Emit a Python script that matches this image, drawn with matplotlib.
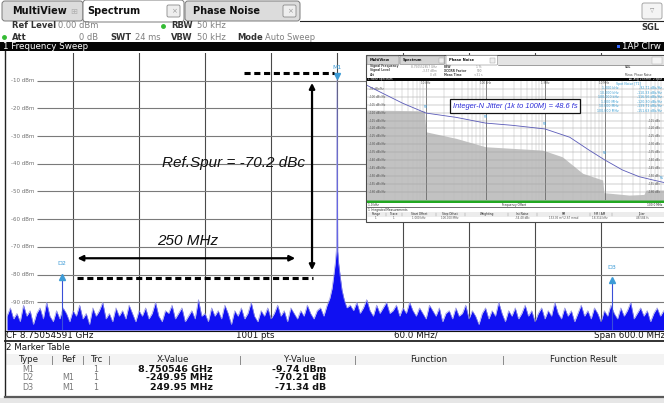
import numpy as np
import matplotlib.pyplot as plt
from matplotlib.patches import Rectangle, FancyBboxPatch
from matplotlib.transforms import offset_copy

plt.rcParams['font.family'] = ['DejaVu Sans']

# ---------------- spectrum trace (dBm) ----------------
# noise floor, 3 MHz steps, offsets -300 .. -12 MHz
noise_left_dbm = [
    -95, -92, -96, -94, -97, -91, -95, -93, -98, -94,
    -92, -96, -90, -95, -97, -93, -96, -92, -94, -97,
    -93, -95, -91, -96, -94, -98, -92, -95, -93, -90,
    -96, -94, -97, -92, -95, -93, -96, -91, -94, -97,
    -93, -95, -92, -96, -94, -90, -95, -97, -93, -94,
    -91, -96, -94, -92, -97, -95, -93, -96, -89, -95,
    -94, -97, -92, -95, -93, -96, -91, -94, -98, -93,
    -95, -92, -96, -94, -90, -95, -97, -93, -95, -92,
    -96, -94, -91, -95, -93, -97, -92, -94, -96, -93,
    -95, -91, -94, -96, -93, -92, -95]
# noise floor, 3 MHz steps, offsets +12 .. +300 MHz
noise_right_dbm = [
    -91, -93, -90, -94, -92, -89, -93, -95, -91, -94,
    -92, -90, -94, -93, -91, -95, -92, -94, -90, -93,
    -95, -92, -94, -96, -91, -93, -95, -92, -97, -94,
    -93, -96, -92, -95, -94, -91, -96, -93, -95, -98,
    -94, -92, -96, -93, -95, -90, -94, -97, -93, -95,
    -92, -96, -94, -91, -95, -93, -97, -94, -92, -96,
    -93, -95, -90, -94, -96, -92, -95, -93, -97, -94,
    -91, -95, -93, -96, -92, -94, -97, -93, -95, -91,
    -94, -96, -92, -95, -93, -90, -96, -94, -92, -95,
    -93, -97, -94, -92, -95, -93, -94]
carrier_offset_mhz = [-9.0, -6.5, -4.5, -3.0, -1.5, -0.6, 0.0, 0.6, 1.5, 3.0, 4.5, 6.5, 9.0]
carrier_dbm = [-91.0, -88.5, -85.0, -80.5, -75.5, -71.0, -9.74, -71.5, -76.0, -81.0, -85.5, -89.0, -92.0]
spur_offset_mhz = [-249.95, 249.95]
spur_dbm = [-79.95, -81.08]

marker_names = ['M1', 'D2', 'D3']
marker_offset_mhz = [0.0, -249.95, 249.95]
marker_dbm = [-9.74, -79.95, -81.08]
level_ticks = [-10, -20, -30, -40, -50, -60, -70, -80, -90]

table_type = ['M1', 'D2', 'D3']
table_ref = ['', 'M1', 'M1']
table_trc = ['1', '1', '1']
table_x = ['8.750546 GHz', '-249.95 MHz', '249.95 MHz']
table_y = ['-9.74 dBm', '-70.21 dB', '-71.34 dB']

# ---------------- phase noise screenshot (inset) ----------------
pn_freq_hz = [1e3, 1.9e3, 4.1e3, 1e4, 3.2e4, 1e5, 2.8e5, 1e6, 2.6e6, 5.5e6, 1e7, 2e7, 3.8e7, 6.5e7, 1e8]
pn_dbc = [-92.7, -98.0, -104.2, -110.3, -113.0, -116.6, -118.0, -120.3, -125.5, -133.6,
          -139.7, -146.1, -150.3, -152.4, -154.0]
pn_floor_hz = [1e3, 9.4e3, 1.0e4, 3.2e4, 1.0e5, 2.8e5, 9.1e5, 1.95e6, 4.3e6, 9.3e6,
               9.8e6, 2.6e7, 4.6e7, 5.0e7, 1e8]
pn_floor_dbc = [-108.4, -108.9, -122.1, -126.2, -131.5, -132.5, -133.6, -137.8, -148.2, -152.4,
                -160.4, -161.9, -161.5, -158.7, -158.7]
pn_marker_hz = [1e4, 1e5, 1e6, 1e7, 1e8]
pn_marker_dbc = [-109.0, -115.2, -119.6, -138.2, -153.4]
pn_marker_names = ['M1', 'M2', 'M3', 'M4', 'M5']
spot_freq = ['1.000 kHz', '10.000 kHz', '100.000 kHz', '1.000 MHz', '10.000 MHz', '100.000 MHz']
spot_val = ['-92.71 dBc/Hz', '-110.33 dBc/Hz', '-116.56 dBc/Hz', '-120.30 dBc/Hz',
            '-139.71 dBc/Hz', '-151.63 dBc/Hz']
int_head = ['Range', 'Trace', 'Start Offset', 'Stop Offset', 'Weighting', 'Int Noise', 'PM', 'FM / AM', 'Jitter']
int_vals = ['1', '1', '1.000 kHz', '100.000 MHz', '', '-54.48 dBc', '153.05 m\u00b0/2.67 mrad',
            '18.314 kHz', '48.584 fs']

W, H = 664, 403
fig = plt.figure(figsize=(W / 100, H / 100), dpi=100)


def pix_axes(left, top, width, height, z):
    a = fig.add_axes([left / W, 1 - (top + height) / H, width / W, height / H], zorder=z)
    return a


def overlay(z):
    a = fig.add_axes([0, 0, 1, 1], zorder=z)
    a.set_xlim(0, W)
    a.set_ylim(H, 0)
    a.axis('off')
    a.patch.set_alpha(0)
    return a


def box(a, x0, y0, x1, y1, fc, ec='none', lw=0.6, z=1, rounded=0):
    if rounded:
        p = FancyBboxPatch((x0, y0), x1 - x0, y1 - y0, boxstyle='round,pad=0,rounding_size=%g' % rounded,
                           facecolor=fc, edgecolor=ec, linewidth=lw, zorder=z)
    else:
        p = Rectangle((x0, y0), x1 - x0, y1 - y0, facecolor=fc, edgecolor=ec, linewidth=lw, zorder=z)
    a.add_patch(p)


def txt(a, x, y, s, size=6.0, color='#222222', weight='normal', ha='left', z=3, **kw):
    a.text(x, y, s, fontsize=size, color=color, fontweight=weight, ha=ha, va='center', zorder=z, **kw)


# ================= main window chrome =================
ui = overlay(0)
box(ui, 0, 0, W, H, 'white', z=0)
# tabs
box(ui, 2, 1, 83, 21, '#dcdcdc', '#7a7a7a', 0.7, rounded=3)
box(ui, 185, 1, 300, 21, '#dcdcdc', '#7a7a7a', 0.7, rounded=3)
box(ui, 83, 0, 184, 22, 'white', '#7a7a7a', 0.7, z=2, rounded=3)
ui.plot([300, W], [20.5, 20.5], color='#222222', lw=0.8, zorder=2)
txt(ui, 12, 11, 'MultiView', 7, '#111111', 'bold')
txt(ui, 74, 11, '\u229e', 6, '#b0b0b0', ha='center')
txt(ui, 87, 11, 'Spectrum', 7, '#111111', 'bold')
box(ui, 167, 5, 180, 17, '#eeeeee', '#8a8a8a', 0.6, z=3, rounded=1.5)
txt(ui, 173.5, 11, '\u00d7', 5, '#999999', ha='center', z=4)
txt(ui, 193, 11, 'Phase Noise', 7, '#111111', 'bold')
box(ui, 283, 5, 296, 17, '#eeeeee', '#8a8a8a', 0.6, z=3, rounded=1.5)
txt(ui, 289.5, 11, '\u00d7', 5, '#999999', ha='center', z=4)
box(ui, 642, 3, 662, 19, '#f4f4f4', '#9a9a9a', 0.6, z=3, rounded=2)
txt(ui, 652, 11, '\u25bd', 4, '#888888', ha='center', z=4)

# setting rows
txt(ui, 12, 26, 'Ref Level', 6, '#333333', 'bold')
txt(ui, 58, 26, '0.00 dBm', 6, '#808080')
ui.plot([163], [26], 'o', ms=2.5, color='#33bb33', zorder=3)
txt(ui, 193, 26, 'RBW', 6, '#333333', 'bold', ha='right')
txt(ui, 197, 26, '50 kHz', 6, '#808080')
ui.plot([4], [37], 'o', ms=2.5, color='#33bb33', zorder=3)
txt(ui, 12, 37, 'Att', 6, '#333333', 'bold')
txt(ui, 98, 37, '0 dB', 6, '#808080', ha='right')
txt(ui, 110, 37, 'SWT', 6, '#333333', 'bold')
txt(ui, 135, 37, '24 ms', 6, '#808080')
txt(ui, 193, 37, 'VBW', 6, '#333333', 'bold', ha='right')
txt(ui, 197, 37, '50 kHz', 6, '#808080')
txt(ui, 237, 37, 'Mode', 6, '#333333', 'bold')
txt(ui, 265, 37, 'Auto Sweep', 6, '#808080')
txt(ui, 660, 28, 'SGL', 6, '#333333', 'bold', ha='right')

# black title bar
box(ui, 0, 41.5, W, 51, '#050505', z=1)
txt(ui, 3, 46.5, '1 Frequency Sweep', 6.3, 'white')
box(ui, 616.5, 45, 619.5, 48, '#3366ff', z=3)
txt(ui, 622, 46.5, '1AP Clrw', 6.3, 'white')

# frame, CF row, marker table
ui.plot([4.5, 4.5], [51, 396], color='#222222', lw=1.0, zorder=4)
ui.plot([4.5, W], [330.5, 330.5], color='#111111', lw=0.8, zorder=4)
ui.plot([4.5, W], [341, 341], color='#222222', lw=1.3, zorder=4)
txt(ui, 6, 335.5, 'CF 8.75054591 GHz', 6.3, '#111111')
txt(ui, 236, 335.5, '1001 pts', 6.3, '#111111')
txt(ui, 394, 335.5, '60.0 MHz/', 6.3, '#111111')
txt(ui, 665, 335.5, 'Span 600.0 MHz', 6.3, '#111111', ha='right')

txt(ui, 6, 348, '2 Marker Table', 6.3, '#111111')
box(ui, 5, 354, W, 364.5, '#f3f3f3', z=1)
for xs in [52, 83, 109, 240, 355, 503]:
    ui.plot([xs, xs], [355.5, 363.5], color='#8a8a8a', lw=0.7, zorder=3)
for xc, lab in zip([28, 68, 96, 173, 300, 429, 584],
                   ['Type', 'Ref', 'Trc', 'X-Value', 'Y-Value', 'Function', 'Function Result']):
    txt(ui, xc, 359.5, lab, 6.3, '#222222', ha='center')
for i in range(len(table_type)):
    yy = 369 + 9 * i
    txt(ui, 28, yy, table_type[i], 5.8, '#777777', ha='center')
    txt(ui, 68, yy, table_ref[i], 5.8, '#777777', ha='center')
    txt(ui, 96, yy, table_trc[i], 5.8, '#777777', ha='center')
    txt(ui, 213, yy, table_x[i], 6.8, '#111111', 'bold', ha='right')
    txt(ui, 326, yy, table_y[i], 6.8, '#111111', 'bold', ha='right')
ui.plot([4.5, W], [396.5, 396.5], color='#5a5a5a', lw=1.6, zorder=4)
box(ui, 0, 397.5, W, H, '#e6e6e6', z=1)

# ================= spectrum plot =================
ax = pix_axes(7, 53, 660, 277, 1)
ax.set_xlim(-300, 300)
ax.set_ylim(-100, 0)
ax.axis('off')

for xv in np.arange(-240, 241, 60):
    ax.axvline(xv, color='#4a4a4a', lw=0.8, zorder=1)
for lv in level_ticks:
    ax.hlines(lv, -273, 300, color='#7a7a7a', lw=0.8, zorder=1)
    ax.text(-296, lv, '%d dBm' % lv, fontsize=4.0, color='#707070', ha='left', va='center', zorder=2)

freq = np.concatenate([np.arange(-300, -11, 3), carrier_offset_mhz, np.arange(12, 301, 3)])
level = np.concatenate([noise_left_dbm, carrier_dbm, noise_right_dbm])
ax.fill_between(freq, level, -100, color='#1010f2', lw=0, zorder=3)
ax.plot(freq, level, color='#9a9ae0', lw=0.45, zorder=4)
ax.vlines(spur_offset_mhz, -100, spur_dbm, color='#3a4fd8', lw=0.8, zorder=4)

mk_color = '#3d9bd6'
up = offset_copy(ax.transData, fig=fig, y=3.5, units='dots')
dn = offset_copy(ax.transData, fig=fig, y=-2.5, units='dots')
for name, mx, my in zip(marker_names, marker_offset_mhz, marker_dbm):
    if name == 'M1':
        ax.plot([mx], [my], marker='v', ms=4.5, color=mk_color, transform=up, zorder=6, clip_on=False)
        ax.text(mx, my + 4.4, name, fontsize=4.5, color=mk_color, ha='center', va='center', zorder=6)
    else:
        ax.plot([mx], [my], marker='^', ms=4.5, color=mk_color, transform=dn, zorder=6)
        ax.text(mx, my + 3.8, name, fontsize=4.5, color=mk_color, ha='center', va='center', zorder=6)

# drawn annotations
ax.plot([-85, -3], [-7.2, -7.2], color='black', lw=2.2, dashes=(2.0, 1.2), zorder=7)
ax.plot([-236, -22], [-81.2, -81.2], color='black', lw=2.2, dashes=(2.0, 1.2), zorder=7)
ax.annotate('', xy=(-22.7, -10.8), xytext=(-22.7, -78.4),
            arrowprops=dict(arrowstyle='<|-|>', color='black', lw=1.6, mutation_scale=8, shrinkA=0, shrinkB=0),
            zorder=7)
ax.annotate('', xy=(-236, -74.1), xytext=(-38, -74.1),
            arrowprops=dict(arrowstyle='<|-|>', color='black', lw=1.6, mutation_scale=8, shrinkA=0, shrinkB=0),
            zorder=7)
ax.text(-163.5, -68.0, '250 MHz', fontsize=11, style='italic', family='Liberation Sans',
        color='#111111', ha='left', va='center', zorder=7)
ax.text(-159, -39.8, 'Ref.Spur = -70.2 dBc', fontsize=11, style='italic', family='Liberation Sans',
        color='#111111', ha='left', va='center', zorder=7)

# ================= inset: phase noise screenshot =================
ui2 = overlay(2)
box(ui2, 366, 55, 666, 222, 'white', '#4a4a4a', 0.8, z=1)
box(ui2, 366.5, 55.5, 666, 64.5, '#e4e4e4', z=1)
box(ui2, 367, 56, 399, 64.5, '#d4d4d4', '#888888', 0.4, z=2, rounded=1)
box(ui2, 400, 56, 444.5, 64.5, '#d4d4d4', '#888888', 0.4, z=2, rounded=1)
box(ui2, 446, 55.5, 497.5, 65, 'white', '#888888', 0.4, z=2, rounded=1)
box(ui2, 439, 57.5, 443.5, 62.5, '#eeeeee', '#999999', 0.3, z=3)
box(ui2, 490, 57.5, 495, 62.5, '#eeeeee', '#999999', 0.3, z=3)
box(ui2, 652, 56.5, 662, 64, '#f4f4f4', '#aaaaaa', 0.3, z=3)
ui2.plot([497.5, 666], [64.5, 64.5], color='#555555', lw=0.4, zorder=3)
txt(ui2, 370, 60.3, 'MultiView', 2.6, '#111111', 'bold')
txt(ui2, 403, 60.3, 'Spectrum', 2.6, '#111111', 'bold')
txt(ui2, 449, 60.3, 'Phase Noise', 2.6, '#111111', 'bold')
for i, (k, v) in enumerate([('Signal Frequency', '8.750552857 GHz'), ('Signal Level', '-3.57 dBm'), ('Att', '0 dB')]):
    txt(ui2, 370, 66.5 + 4 * i, k, 2.1, '#444444', 'bold')
    txt(ui2, 437, 66.5 + 4 * i, v, 2.1, '#888888', ha='right')
for i, (k, v) in enumerate([('RBW', '1 %'), ('XCORR Factor', '500'), ('Meas Time', '<31 s')]):
    txt(ui2, 444, 66.5 + 4 * i, k, 2.1, '#444444', 'bold')
    txt(ui2, 482, 66.5 + 4 * i, v, 2.1, '#888888', ha='right')
txt(ui2, 625, 66.5, 'SGL', 2.1, '#444444', 'bold')
txt(ui2, 625, 74.5, 'Meas: Phase Noise', 2.1, '#444444')
box(ui2, 366.5, 77.5, 666, 80.8, '#050505', z=2)
txt(ui2, 368, 79.1, '1 Noise Spectrum', 2.0, 'white', z=4)
txt(ui2, 662, 79.1, '\u25aa1 Avg 1%Smth  2 Spur', 2.0, 'white', ha='right', z=4)
box(ui2, 366.5, 200, 666, 203.4, '#22a822', z=2)
txt(ui2, 368, 205.2, '1.0 kHz', 2.1, '#222222')
txt(ui2, 514, 205.2, 'Frequency Offset', 2.1, '#222222', ha='center')
txt(ui2, 662, 205.2, '100.0 MHz', 2.1, '#222222', ha='right')
ui2.plot([366.5, 666], [207.2, 207.2], color='#333333', lw=0.5, zorder=3)
txt(ui2, 368, 210.3, '1 Integrated Measurements', 2.1, '#222222')
box(ui2, 367, 212.2, 666, 216.6, '#ececec', z=2)
int_x = [376, 394, 419, 450, 487, 522, 564, 600, 642]
for xc, hd, vl in zip(int_x, int_head, int_vals):
    txt(ui2, xc, 214.4, hd, 2.1, '#222222', ha='center')
    txt(ui2, xc, 218.4, vl, 2.0, '#555555', ha='center')
for xs in [386, 402, 436, 465, 508, 537, 590, 612]:
    ui2.plot([xs, xs], [212.6, 216.2], color='#888888', lw=0.3, zorder=3)

pn = pix_axes(366.5, 80.8, 297.5, 119.2, 3)
pn.set_xscale('log')
pn.set_xlim(1e3, 1e8)
pn.set_ylim(-165, -90)
pn.axis('off')
pn.fill_between(pn_floor_hz, pn_floor_dbc, -165, color='#c2c2c2', lw=0, zorder=1)
for dec in [1e3, 1e4, 1e5, 1e6, 1e7]:
    for m in range(2, 10):
        pn.axvline(dec * m, color='#bdbdbd', lw=0.35, zorder=2)
    if dec > 1e3:
        pn.axvline(dec, color='#6a6a6a', lw=0.6, zorder=2)
for lv in np.arange(-160, -90, 5):
    pn.axhline(lv, color='#a0a0a0', lw=0.35, zorder=2)
    pn.text(1.12e3, lv, '%d dBc/Hz' % lv, fontsize=2.0, color='#555555', va='center', zorder=3)
    if lv <= -115:
        pn.text(8.6e7, lv, '%d dBc' % lv, fontsize=2.0, color='#555555', va='center', ha='right', zorder=3)
for f0, lab in zip([1e4, 1e5, 1e6, 1e7], ['10 kHz', '100 kHz', '1 MHz', '10 MHz']):
    pn.text(f0, -91.6, lab, fontsize=2.0, color='#555555', ha='center', va='center', zorder=3)
pn.plot(pn_freq_hz, pn_dbc, color='#5a5ab8', lw=0.6, zorder=4)
for f0, d0, nm in zip(pn_marker_hz, pn_marker_dbc, pn_marker_names):
    pn.text(f0, d0 + 1.2, nm, fontsize=2.0, color='#3d9bd6', va='bottom', zorder=5,
            ha='right' if f0 >= 1e8 else 'center')

ui3 = overlay(4)
box(ui3, 450, 99.3, 580, 112.7, 'white', '#111111', 0.9, z=2)
ui3.text(515, 106, 'Integer-N Jitter (1k to 100M) = 48.6 fs', fontsize=5.4, style='italic',
         family='Liberation Sans', color='#2b2bd6', ha='center', va='center', zorder=3)
txt(ui3, 628, 83.5, 'Spot Noise [T1]', 2.3, '#3a9fd4', ha='center')
for i, (f0, v0) in enumerate(zip(spot_freq, spot_val)):
    yy = 88.3 + 4.45 * i
    txt(ui3, 618.7, yy, f0, 2.3, '#3a9fd4', ha='right')
    txt(ui3, 662, yy, v0, 2.3, '#3a9fd4', ha='right')

fig.savefig('out.png', dpi=100)
